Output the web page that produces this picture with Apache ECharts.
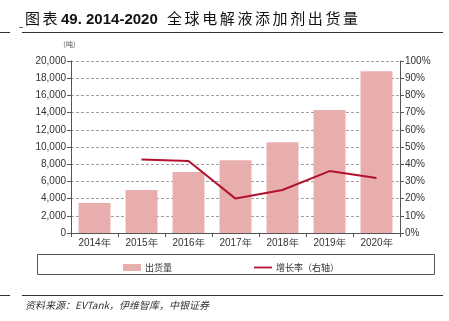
<!DOCTYPE html>
<html>
<head>
<meta charset="utf-8">
<script src="https://cdn.jsdelivr.net/npm/echarts@6/dist/echarts.min.js"></script>
<style>
  html, body { margin: 0; padding: 0; background: #fff; }
  #chart { width: 449px; height: 321px; }
</style>
</head>
<body>
<div id="chart"></div>
<script>
// 2014-2020 global electrolyte additive shipments (tonnes) and YoY growth (%)
const years = ['2014年', '2015年', '2016年', '2017年', '2018年', '2019年', '2020年'];
const shipments = [3500, 5000, 7100, 8450, 10550, 14300, 18800];
const growth = [null, 42.7, 41.9, 20.0, 25.0, 36.0, 32.0];
const leftTicks = { min: 0, max: 20000, interval: 2000 };
const rightTicks = { min: 0, max: 100, interval: 10 };

const font = 'Liberation Sans, Arial, sans-serif';
const cjk = '"Noto Sans CJK SC", sans-serif';
const barColor = '#E7AEAD';
const lineColor = '#B0122F';
const axisColor = '#555';

// title pieces: CJK characters are spaced out one by one
const titleHead = '图表';
const titleNum = '49. 2014-2020';
const titleTail = '全球电解液添加剂出货量';

const titleGraphics = [];
Array.from(titleHead).forEach((ch, i) => {
  titleGraphics.push({ type: 'text', left: 25 + i * 17.5, top: 11,
    style: { text: ch, font: '15px ' + cjk, fill: '#111' } });
});
titleGraphics.push({ type: 'text', left: 61, top: 12,
  style: { text: titleNum, font: 'bold 15px ' + font, fill: '#111' } });
Array.from(titleTail).forEach((ch, i) => {
  titleGraphics.push({ type: 'text', left: 167 + i * 17.6, top: 11,
    style: { text: ch, font: '15px ' + cjk, fill: '#111' } });
});

const chart = echarts.init(document.getElementById('chart'), null, { renderer: 'canvas' });
chart.setOption({
  animation: false,
  backgroundColor: '#fff',
  grid: { left: 71, right: 49, top: 61, bottom: 88 },
  xAxis: {
    type: 'category',
    data: years,
    axisLine: { lineStyle: { color: axisColor, width: 1 } },
    axisTick: { show: true, length: 4, alignWithLabel: false, lineStyle: { color: axisColor } },
    axisLabel: { color: '#333', fontSize: 10, fontFamily: font, margin: 5 }
  },
  yAxis: [
    {
      type: 'value', ...leftTicks,
      axisLine: { show: true, lineStyle: { color: axisColor } },
      axisTick: { show: true, length: 4, lineStyle: { color: axisColor } },
      axisLabel: {
        color: '#333', fontSize: 10, fontFamily: font, margin: 5,
        formatter: v => v.toLocaleString('en-US')
      },
      splitLine: { show: true, lineStyle: { color: '#888', type: [3, 2], width: 0.8 } }
    },
    {
      type: 'value', ...rightTicks,
      axisLine: { show: true, lineStyle: { color: axisColor } },
      axisTick: { show: true, length: 4, lineStyle: { color: axisColor } },
      axisLabel: { color: '#333', fontSize: 10, fontFamily: font, margin: 5, formatter: '{value}%' },
      splitLine: { show: false }
    }
  ],
  legend: {
    left: 118, top: 258, itemGap: 82, itemWidth: 18, itemHeight: 7,
    textStyle: { fontFamily: cjk, fontSize: 9, color: '#333', padding: [0, 0, 0, -1] },
    data: [
      { name: '出货量', icon: 'rect' },
      { name: '增长率（右轴）', icon: 'path://M0,0H20V2H0Z', itemStyle: { color: lineColor } }
    ]
  },
  series: [
    {
      name: '出货量', type: 'bar', data: shipments, barWidth: '68%',
      itemStyle: { color: barColor }
    },
    {
      name: '增长率（右轴）', type: 'line', yAxisIndex: 1, data: growth,
      symbol: 'none', lineStyle: { color: lineColor, width: 2 }, itemStyle: { color: lineColor }
    }
  ],
  graphic: [
    ...titleGraphics,
    { type: 'line', shape: { x1: 19, y1: 27.5, x2: 23, y2: 27.5 }, style: { stroke: '#666', lineWidth: 1 } },
    { type: 'line', shape: { x1: 22, y1: 32.5, x2: 443, y2: 32.5 }, style: { stroke: '#333', lineWidth: 1 } },
    { type: 'line', shape: { x1: 0, y1: 32.5, x2: 10, y2: 32.5 }, style: { stroke: '#333', lineWidth: 1 } },
    { type: 'text', left: 59, top: 41, style: { text: '（吨）', font: '7px ' + cjk, fill: '#555' } },
    { type: 'rect', shape: { x: 37.5, y: 254.5, width: 397, height: 20 }, style: { fill: 'none', stroke: '#555', lineWidth: 1 } },
    { type: 'line', shape: { x1: 22, y1: 295.5, x2: 443, y2: 295.5 }, style: { stroke: '#333', lineWidth: 1 } },
    { type: 'line', shape: { x1: 0, y1: 295.5, x2: 10, y2: 295.5 }, style: { stroke: '#333', lineWidth: 1 } },
    { type: 'text', left: 25, top: 300, style: { text: '资料来源：EVTank，伊维智库，中银证券', font: 'italic 10px ' + cjk, fill: '#333' } }
  ]
});
</script>
</body>
</html>
